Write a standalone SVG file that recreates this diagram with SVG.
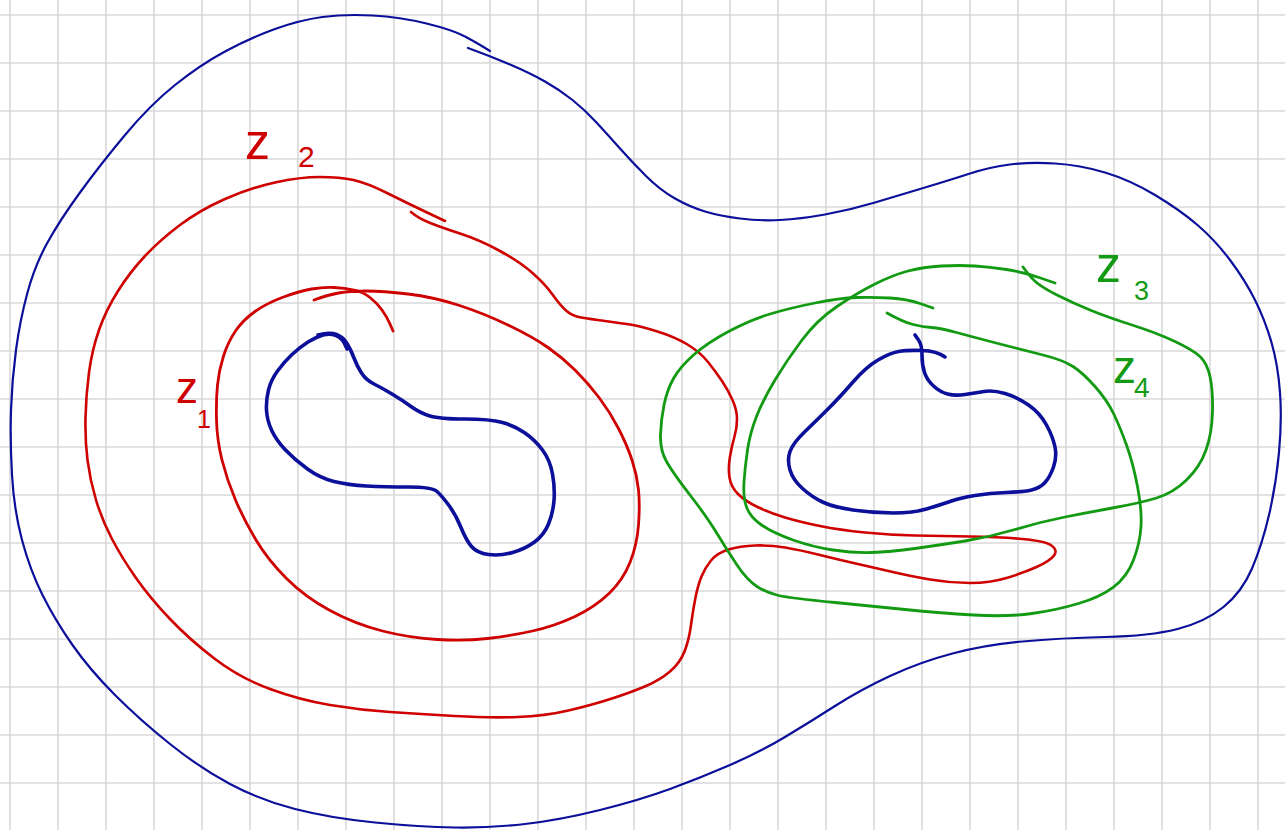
<svg xmlns="http://www.w3.org/2000/svg" width="1285" height="830" viewBox="0 0 1285 830">
<style>
.grid line{stroke:#d8d8d8;stroke-width:1.6}
.c{fill:none;stroke-linecap:round;stroke-linejoin:round}
.b{stroke:#0b0f99}
.r{stroke:#cf0000}
.g{stroke:#139a13}
.lab{font-family:"Liberation Sans","DejaVu Sans",sans-serif}
.lr{fill:#cf0000}
.lg{fill:#139a13}
</style>
<rect width="1285" height="830" fill="#ffffff"/>
<g class="grid" id="grid">
<line x1="10" y1="0" x2="10" y2="830"/><line x1="58" y1="0" x2="58" y2="830"/><line x1="106" y1="0" x2="106" y2="830"/><line x1="154" y1="0" x2="154" y2="830"/><line x1="202" y1="0" x2="202" y2="830"/><line x1="250" y1="0" x2="250" y2="830"/><line x1="298" y1="0" x2="298" y2="830"/><line x1="346" y1="0" x2="346" y2="830"/><line x1="394" y1="0" x2="394" y2="830"/><line x1="442" y1="0" x2="442" y2="830"/><line x1="490" y1="0" x2="490" y2="830"/><line x1="538" y1="0" x2="538" y2="830"/><line x1="586" y1="0" x2="586" y2="830"/><line x1="634" y1="0" x2="634" y2="830"/><line x1="682" y1="0" x2="682" y2="830"/><line x1="730" y1="0" x2="730" y2="830"/><line x1="778" y1="0" x2="778" y2="830"/><line x1="826" y1="0" x2="826" y2="830"/><line x1="874" y1="0" x2="874" y2="830"/><line x1="922" y1="0" x2="922" y2="830"/><line x1="970" y1="0" x2="970" y2="830"/><line x1="1018" y1="0" x2="1018" y2="830"/><line x1="1066" y1="0" x2="1066" y2="830"/><line x1="1114" y1="0" x2="1114" y2="830"/><line x1="1162" y1="0" x2="1162" y2="830"/><line x1="1210" y1="0" x2="1210" y2="830"/><line x1="1258" y1="0" x2="1258" y2="830"/>
<line x1="0" y1="15" x2="1285" y2="15"/><line x1="0" y1="63" x2="1285" y2="63"/><line x1="0" y1="111" x2="1285" y2="111"/><line x1="0" y1="159" x2="1285" y2="159"/><line x1="0" y1="207" x2="1285" y2="207"/><line x1="0" y1="255" x2="1285" y2="255"/><line x1="0" y1="303" x2="1285" y2="303"/><line x1="0" y1="351" x2="1285" y2="351"/><line x1="0" y1="399" x2="1285" y2="399"/><line x1="0" y1="447" x2="1285" y2="447"/><line x1="0" y1="495" x2="1285" y2="495"/><line x1="0" y1="543" x2="1285" y2="543"/><line x1="0" y1="591" x2="1285" y2="591"/><line x1="0" y1="639" x2="1285" y2="639"/><line x1="0" y1="687" x2="1285" y2="687"/><line x1="0" y1="735" x2="1285" y2="735"/><line x1="0" y1="783" x2="1285" y2="783"/>
</g>
<g id="connectors">
<g id="blue-outer">
<path class="c b" stroke-width="2.2" d="M490,51 L483.5,47 Q477,43 465,36.5 Q453,30 426.5,23.5 Q400,17 372.5,15.5 Q345,14 322.5,17 Q300,20 275,29 Q250,38 225,51.5 Q200,65 175,85 Q150,105 125,135 Q100,165 80,192.5 Q60,220 47.5,242.5 Q35,265 27.5,292.5 Q20,320 16,350 Q12,380 11,410 Q10,440 12,475 Q14,510 22,540 Q30,570 42.5,595 Q55,620 72.5,645 Q90,670 115,695 Q140,720 170,744 Q200,768 230,784 Q260,800 295,809 Q330,818 375,822.5 Q420,827 455,827.5 Q490,828 525,824 Q560,820 600,810 Q640,800 670,789 Q700,778 730,765 Q760,752 785,737 Q810,722 835,706 Q860,690 890,676 Q920,662 952.5,653.5 Q985,645 1022.5,641.5 Q1060,638 1105,637 Q1150,636 1177.5,629 Q1205,622 1223.5,607 Q1242,592 1252,568.5 Q1262,545 1269,515 Q1276,485 1279,452.5 Q1282,420 1280,392.5 Q1278,365 1271.5,342.5 Q1265,320 1255,300 Q1245,280 1230,260 Q1215,240 1197.5,225 Q1180,210 1155,195 Q1130,180 1105,172.5 Q1080,165 1055,163.5 Q1030,162 1010,164.5 Q990,167 970,173.5 Q950,180 925,187.5 Q900,195 875,202.5 Q850,210 825,214.5 Q800,219 780,220 Q760,221 740,218.5 Q720,216 705,211.5 Q690,207 675,198.5 Q660,190 646,176 Q632,162 620,148.5 Q608,135 596.5,122.5 Q585,110 572.5,100 Q560,90 545,81.5 Q530,73 510,64.5 Q490,56 468,48"/>
</g>
<g id="blue-inner-left">
<path class="c b" stroke-width="3.6" d="M347,349 L344.5,343.5 Q342,338 336,335.5 Q330,333 323,335 Q316,337 308,342 Q300,347 292,354.5 Q284,362 277.5,371 Q271,380 268.5,390 Q266,400 266.5,410 Q267,420 271.5,430 Q276,440 285.5,450 Q295,460 307.5,469 Q320,478 334,481.5 Q348,485 366.5,486 Q385,487 408.5,487 Q432,487 437,491.5 Q442,496 449,505.5 Q456,515 461,527.5 Q466,540 471.5,546.5 Q477,553 488.5,554.5 Q500,556 512.5,552.5 Q525,549 534.5,542 Q544,535 548.5,524 Q553,513 554,500.5 Q555,488 552.5,474 Q550,460 542.5,450 Q535,440 525,433 Q515,426 502.5,422.5 Q490,419 465,419 Q440,419 430,416 Q420,413 411,406.5 Q402,400 392,394 Q382,388 374,384 Q366,380 361.5,373 Q357,366 354,358 Q351,350 347,343.5 Q343,337 336.5,334.5 Q330,332 318,335"/>
</g>
<g id="blue-inner-right">
<path class="c b" stroke-width="3.6" d="M915,335 L918.5,340 Q922,345 922,355 Q922,365 924.5,372.5 Q927,380 933.5,386 Q940,392 947.5,394 Q955,396 965,394.5 Q975,393 984,391.5 Q993,390 1005,393.5 Q1017,397 1028.5,405 Q1040,413 1046.5,425 Q1053,437 1055,447 Q1057,457 1053.5,467 Q1050,477 1045,482.5 Q1040,488 1031.5,490 Q1023,492 1006.5,492.5 Q990,493 975,495.5 Q960,498 950,501.5 Q940,505 926.5,509 Q913,513 893,513 Q873,513 853,510 Q833,507 822.5,502 Q812,497 802.5,488.5 Q793,480 790,470 Q787,460 790,451.5 Q793,443 805,431.5 Q817,420 828.5,408.5 Q840,397 853,382 Q866,367 878,360 Q890,353 898.5,351.5 Q907,350 922,350.5 Q937,351 945,357"/>
</g>
<g id="red-outer">
<path class="c r" stroke-width="2.6" d="M445,221 L426,212 Q407,203 387,193 Q367,183 353.5,180 Q340,177 320,177 Q300,177 275,182.5 Q250,188 225,199 Q200,210 180,225 Q160,240 145,256 Q130,272 118,291 Q106,310 99,330 Q92,350 89,372.5 Q86,395 85.5,417.5 Q85,440 87.5,460 Q90,480 96,500 Q102,520 112,539 Q122,558 136,578 Q150,598 170,619 Q190,640 215,659 Q240,678 270,689 Q300,700 330,705 Q360,710 390,712 Q420,714 455,716 Q490,718 517.5,717 Q545,716 568.5,710.5 Q592,705 612,698.5 Q632,692 646,686 Q660,680 670,671.5 Q680,663 684.5,651.5 Q689,640 691,625 Q693,610 695.5,597.5 Q698,585 701.5,576.5 Q705,568 711,560.5 Q717,553 728.5,549.5 Q740,546 755,545.5 Q770,545 785,547.5 Q800,550 820,555 Q840,560 860,564.5 Q880,569 895,572.5 Q910,576 930,579.5 Q950,583 970,583 Q990,583 1006.5,578 Q1023,573 1036.5,567 Q1050,561 1054,555.5 Q1058,550 1051.5,545.5 Q1045,541 1022.5,539 Q1000,537 970,536.5 Q940,536 915,535.5 Q890,535 865,532.5 Q840,530 820,526 Q800,522 785,517.5 Q770,513 757.5,507 Q745,501 738,494 Q731,487 729.5,477.5 Q728,468 730,456.5 Q732,445 734.5,436.5 Q737,428 737,419 Q737,410 732.5,400 Q728,390 722,381 Q716,372 708,362 Q700,352 687.5,344.5 Q675,337 657.5,331.5 Q640,326 630,324.5 Q620,323 605,321 Q590,319 581,317.5 Q572,316 566,310.5 Q560,305 552.5,294.5 Q545,284 532.5,273 Q520,262 500,251 Q480,240 460,233.5 Q440,227 429,222.5 Q418,218 411,212"/>
</g>
<g id="red-inner">
<path class="c r" stroke-width="2.8" d="M393,331 L390,324 Q387,317 382,310 Q377,303 370,297.5 Q363,292 354,290 Q345,288 334,287.5 Q323,287 311.5,289 Q300,291 283.5,297 Q267,303 255,311.5 Q243,320 235.5,331 Q228,342 223.5,356 Q219,370 217.5,385 Q216,400 216.5,420 Q217,440 222,460 Q227,480 235.5,500 Q244,520 256,540 Q268,560 286.5,578.5 Q305,597 330,610.5 Q355,624 382.5,631 Q410,638 437.5,639.5 Q465,641 487.5,638.5 Q510,636 532.5,631 Q555,626 575,616.5 Q595,607 609,593.5 Q623,580 630,562.5 Q637,545 638.5,525 Q640,505 638.5,490 Q637,475 632,460 Q627,445 618.5,428.5 Q610,412 599,397.5 Q588,383 575.5,370.5 Q563,358 548,347.5 Q533,337 508,325 Q483,313 458,305 Q433,297 408,294 Q383,291 366.5,291 Q350,291 338.5,293 Q327,295 314,300"/>
</g>
<g id="green-outer">
<path class="c g" stroke-width="2.8" d="M1055,283 L1039,277.5 Q1023,272 1006.5,269.5 Q990,267 975,266 Q960,265 941.5,266 Q923,267 908,271 Q893,275 875,284 Q857,293 837,306.5 Q817,320 802,340 Q787,360 775,380 Q763,400 756.5,416.5 Q750,433 747.5,450 Q745,467 744,482 Q743,497 746.5,507 Q750,517 761.5,525 Q773,533 793,540 Q813,547 833,550 Q853,553 871.5,552.5 Q890,552 915,548.5 Q940,545 965,541 Q990,537 1015,529.5 Q1040,522 1065,517 Q1090,512 1115,507.5 Q1140,503 1156.5,498 Q1173,493 1186.5,480 Q1200,467 1206,450 Q1212,433 1212.5,411.5 Q1213,390 1210,376.5 Q1207,363 1200,356.5 Q1193,350 1175,341.5 Q1157,333 1132,325 Q1107,317 1090,310 Q1073,303 1058,295.5 Q1043,288 1036.5,282.5 Q1030,277 1023,267"/>
</g>
<g id="green-inner">
<path class="c g" stroke-width="2.8" d="M933,308 L920,303.5 Q907,299 890,298 Q873,297 856.5,297.5 Q840,298 815,303 Q790,308 770,314 Q750,320 728.5,331.5 Q707,343 693.5,355 Q680,367 673.5,378.5 Q667,390 664,405 Q661,420 660.5,435 Q660,450 666.5,461.5 Q673,473 690,495 Q707,517 717,533.5 Q727,550 737,565 Q747,580 757,586.5 Q767,593 778.5,595.5 Q790,598 835,602.5 Q880,607 910,610 Q940,613 973.5,615 Q1007,617 1032,613.5 Q1057,610 1078.5,603.5 Q1100,597 1113.5,587 Q1127,577 1133.5,560 Q1140,543 1141,526.5 Q1142,510 1137.5,486.5 Q1133,463 1126.5,445 Q1120,427 1113.5,413.5 Q1107,400 1095,386.5 Q1083,373 1073,366.5 Q1063,360 1043,355 Q1023,350 998,343.5 Q973,337 956.5,332.5 Q940,328 931.5,327.5 Q923,327 913,324.5 Q903,322 887,313"/>
</g>
</g>
<g id="label-z2" class="lab lr">
<text><tspan x="245" y="159" font-size="50">z</tspan><tspan x="298" y="167" font-size="30">2</tspan></text>
</g>
<g id="label-z1" class="lab lr">
<text><tspan x="176" y="403" font-size="44">z</tspan><tspan x="197" y="428" font-size="25">1</tspan></text>
</g>
<g id="label-z3" class="lab lg">
<text><tspan x="1096" y="282" font-size="50">z</tspan><tspan x="1134" y="300" font-size="27">3</tspan></text>
</g>
<g id="label-z4" class="lab lg">
<text><tspan x="1113" y="383" font-size="46">z</tspan><tspan x="1134" y="397" font-size="28">4</tspan></text>
</g>
</svg>
